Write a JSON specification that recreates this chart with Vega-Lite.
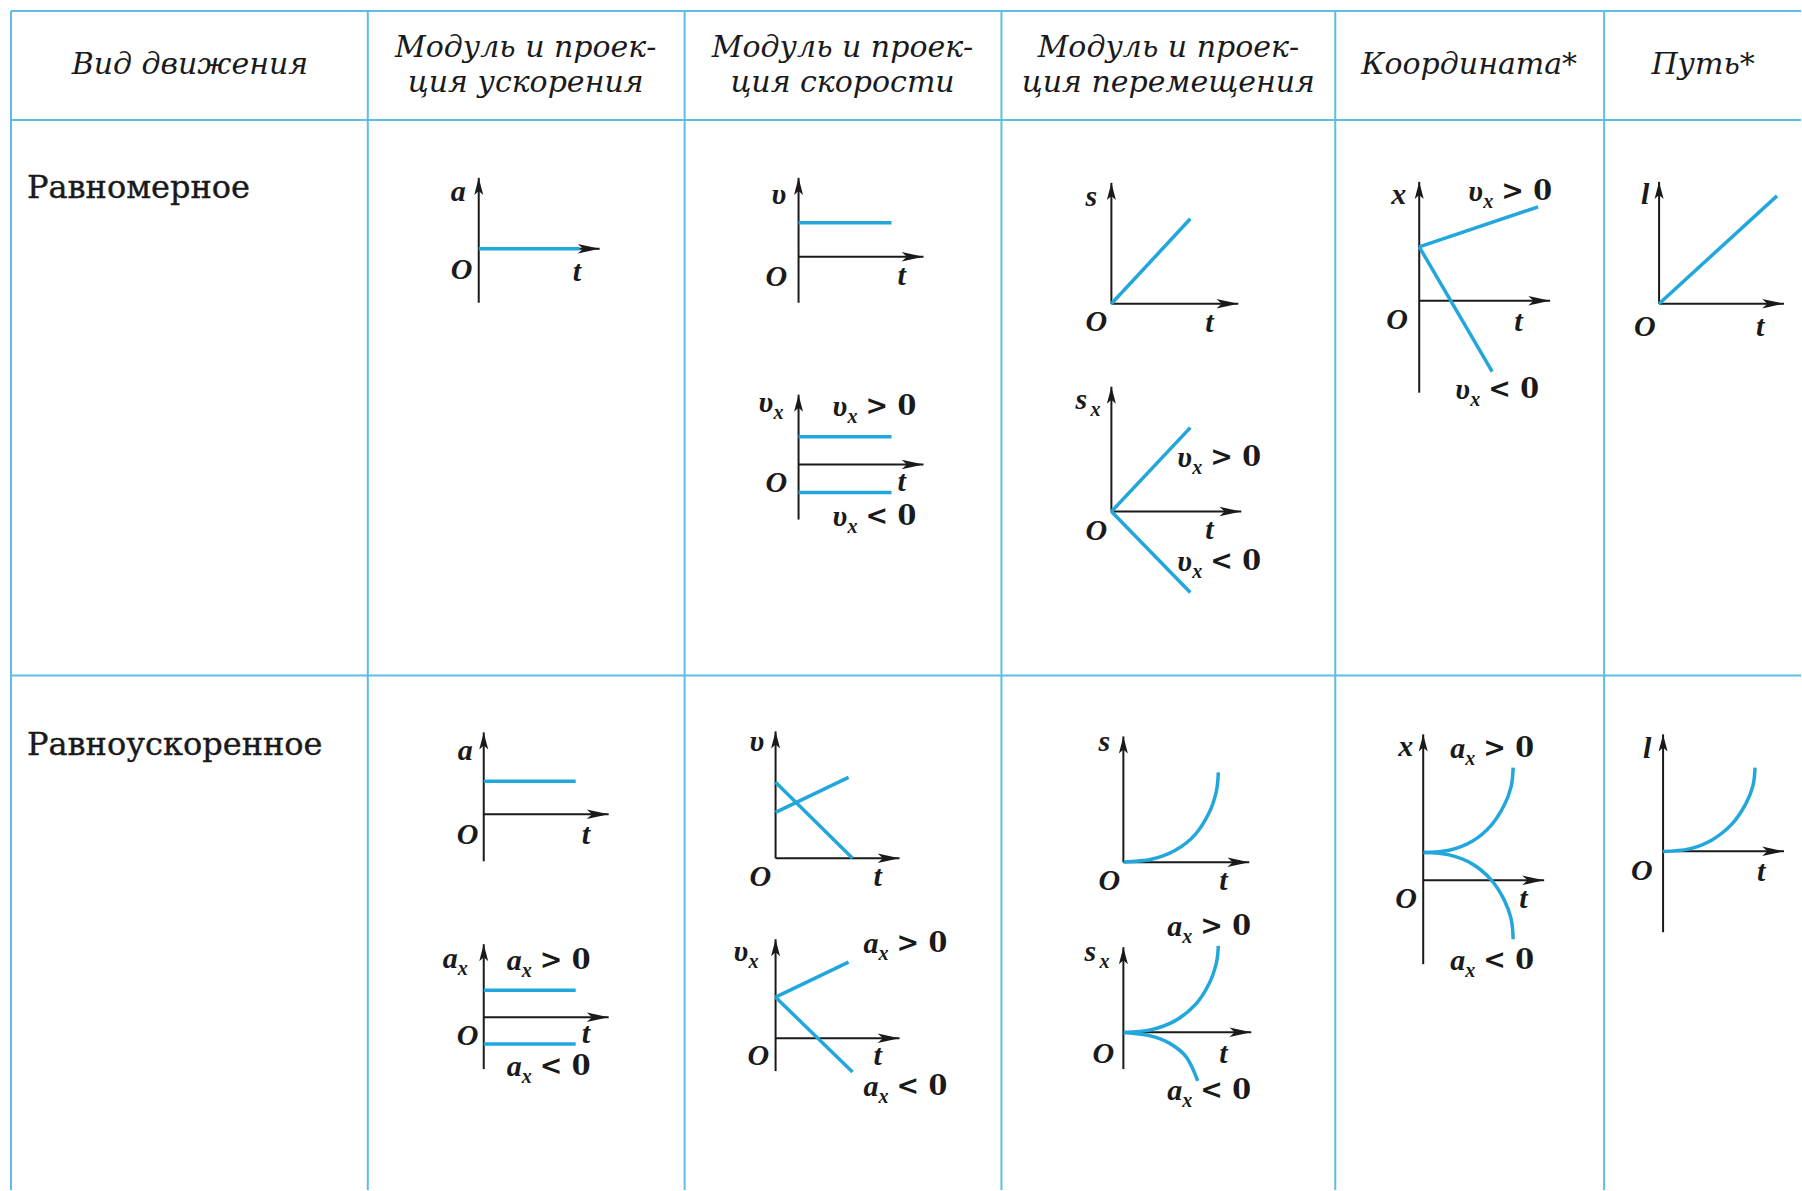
{
  "$schema": "https://vega.github.io/schema/vega-lite/v6.json",
  "width": 1802,
  "height": 1191,
  "autosize": {"type": "fit", "contains": "padding"},
  "padding": 0,
  "background": "white",
  "config": {"view": {"stroke": null}},
  "datasets": {
    "grid": [
      {"x": 11, "y": 11, "x2": 1802, "y2": 11},
      {"x": 11, "y": 120, "x2": 1802, "y2": 120},
      {"x": 11, "y": 676, "x2": 1802, "y2": 676},
      {"x": 11, "y": 11, "x2": 11, "y2": 1191},
      {"x": 368, "y": 11, "x2": 368, "y2": 1191},
      {"x": 685, "y": 11, "x2": 685, "y2": 1191},
      {"x": 1002, "y": 11, "x2": 1002, "y2": 1191},
      {"x": 1336, "y": 11, "x2": 1336, "y2": 1191},
      {"x": 1605, "y": 11, "x2": 1605, "y2": 1191}
    ],
    "vaxes": [
      {"x": 479, "y": 178, "y2": 303},
      {"x": 799, "y": 178, "y2": 303},
      {"x": 799, "y": 395, "y2": 520},
      {"x": 1112, "y": 183, "y2": 304},
      {"x": 1112, "y": 387, "y2": 512},
      {"x": 1420, "y": 182, "y2": 393},
      {"x": 1660, "y": 182, "y2": 304},
      {"x": 484, "y": 733, "y2": 862},
      {"x": 484, "y": 945, "y2": 1070},
      {"x": 776, "y": 732, "y2": 859},
      {"x": 776, "y": 940, "y2": 1072},
      {"x": 1124, "y": 737, "y2": 863},
      {"x": 1124, "y": 948, "y2": 1070},
      {"x": 1424, "y": 735, "y2": 965},
      {"x": 1664, "y": 735, "y2": 933}
    ],
    "haxes": [
      {"x": 479, "x2": 600, "y": 249},
      {"x": 799, "x2": 924, "y": 257},
      {"x": 799, "x2": 924, "y": 465},
      {"x": 1112, "x2": 1239, "y": 304},
      {"x": 1112, "x2": 1242, "y": 512},
      {"x": 1420, "x2": 1551, "y": 301},
      {"x": 1660, "x2": 1785, "y": 304},
      {"x": 484, "x2": 609, "y": 815},
      {"x": 484, "x2": 609, "y": 1018},
      {"x": 776, "x2": 900, "y": 859},
      {"x": 776, "x2": 900, "y": 1039},
      {"x": 1124, "x2": 1250, "y": 863},
      {"x": 1124, "x2": 1252, "y": 1033},
      {"x": 1424, "x2": 1545, "y": 881},
      {"x": 1664, "x2": 1785, "y": 852}
    ],
    "segs": [
      {"x": 479, "y": 249, "x2": 580, "y2": 249},
      {"x": 799, "y": 223, "x2": 892, "y2": 223},
      {"x": 799, "y": 437, "x2": 892, "y2": 437},
      {"x": 799, "y": 493, "x2": 892, "y2": 493},
      {"x": 1112, "y": 304, "x2": 1191, "y2": 219},
      {"x": 1112, "y": 512, "x2": 1191, "y2": 428},
      {"x": 1112, "y": 512, "x2": 1191, "y2": 593},
      {"x": 1420, "y": 247, "x2": 1539, "y2": 207},
      {"x": 1420, "y": 247, "x2": 1493, "y2": 372},
      {"x": 1660, "y": 304, "x2": 1778, "y2": 196},
      {"x": 484, "y": 782, "x2": 576, "y2": 782},
      {"x": 484, "y": 991, "x2": 576, "y2": 991},
      {"x": 484, "y": 1045, "x2": 576, "y2": 1045},
      {"x": 776, "y": 783, "x2": 853, "y2": 859},
      {"x": 776, "y": 813, "x2": 849, "y2": 778},
      {"x": 776, "y": 998, "x2": 849, "y2": 963},
      {"x": 776, "y": 998, "x2": 853, "y2": 1073}
    ],
    "curves": [
      {"id": "c1", "p": 0, "x": 1124.4, "y": 862.7},
      {"id": "c1", "p": 1, "x": 1152, "y": 860},
      {"id": "c1", "p": 2, "x": 1176, "y": 851},
      {"id": "c1", "p": 3, "x": 1196, "y": 835},
      {"id": "c1", "p": 4, "x": 1210, "y": 813},
      {"id": "c1", "p": 5, "x": 1217, "y": 792},
      {"id": "c1", "p": 6, "x": 1219, "y": 773},
      {"id": "c2", "p": 0, "x": 1124.4, "y": 1033.3},
      {"id": "c2", "p": 1, "x": 1152, "y": 1030.5},
      {"id": "c2", "p": 2, "x": 1176, "y": 1021.5},
      {"id": "c2", "p": 3, "x": 1196, "y": 1005.5},
      {"id": "c2", "p": 4, "x": 1210, "y": 984},
      {"id": "c2", "p": 5, "x": 1217, "y": 964},
      {"id": "c2", "p": 6, "x": 1219, "y": 946.7},
      {"id": "c3", "p": 0, "x": 1124.4, "y": 1033.3},
      {"id": "c3", "p": 1, "x": 1150, "y": 1036.5},
      {"id": "c3", "p": 2, "x": 1170, "y": 1044},
      {"id": "c3", "p": 3, "x": 1187, "y": 1058},
      {"id": "c3", "p": 4, "x": 1198.4, "y": 1081.7},
      {"id": "c4", "p": 0, "x": 1424.4, "y": 853.3},
      {"id": "c4", "p": 1, "x": 1450, "y": 851},
      {"id": "c4", "p": 2, "x": 1473, "y": 842},
      {"id": "c4", "p": 3, "x": 1492, "y": 826},
      {"id": "c4", "p": 4, "x": 1505, "y": 806},
      {"id": "c4", "p": 5, "x": 1512, "y": 787},
      {"id": "c4", "p": 6, "x": 1514, "y": 768.3},
      {"id": "c5", "p": 0, "x": 1424.4, "y": 853.3},
      {"id": "c5", "p": 1, "x": 1450, "y": 855.6},
      {"id": "c5", "p": 2, "x": 1473, "y": 864.6},
      {"id": "c5", "p": 3, "x": 1492, "y": 880.6},
      {"id": "c5", "p": 4, "x": 1505, "y": 900.6},
      {"id": "c5", "p": 5, "x": 1512, "y": 920},
      {"id": "c5", "p": 6, "x": 1514, "y": 940},
      {"id": "c6", "p": 0, "x": 1663.7, "y": 852.3},
      {"id": "c6", "p": 1, "x": 1690, "y": 849.6},
      {"id": "c6", "p": 2, "x": 1713, "y": 840.6},
      {"id": "c6", "p": 3, "x": 1733, "y": 824.6},
      {"id": "c6", "p": 4, "x": 1747, "y": 804},
      {"id": "c6", "p": 5, "x": 1754, "y": 786},
      {"id": "c6", "p": 6, "x": 1756, "y": 768.3}
    ],
    "headers": [
      {"t": "Вид движения", "x": 190, "y": 65},
      {"t": "Модуль и проек-", "x": 526, "y": 48},
      {"t": "ция ускорения", "x": 526, "y": 83},
      {"t": "Модуль и проек-", "x": 843, "y": 48},
      {"t": "ция скорости", "x": 843, "y": 83},
      {"t": "Модуль и проек-", "x": 1169, "y": 48},
      {"t": "ция перемещения", "x": 1169, "y": 83},
      {"t": "Координата*", "x": 1470, "y": 65},
      {"t": "Путь*", "x": 1704, "y": 65}
    ],
    "rows": [
      {"t": "Равномерное", "x": 27, "y": 188},
      {"t": "Равноускоренное", "x": 27, "y": 746}
    ],
    "labels": [
      {"x": 451, "y": 192, "m": "a", "s": "", "r": ""},
      {"x": 451, "y": 270, "m": "O", "s": "", "r": ""},
      {"x": 573, "y": 272, "m": "t", "s": "", "r": ""},
      {"x": 772, "y": 195, "m": "υ", "s": "", "r": ""},
      {"x": 766, "y": 277, "m": "O", "s": "", "r": ""},
      {"x": 898, "y": 276, "m": "t", "s": "", "r": ""},
      {"x": 759, "y": 403, "m": "υ", "s": "x", "r": ""},
      {"x": 766, "y": 483, "m": "O", "s": "", "r": ""},
      {"x": 898, "y": 482, "m": "t", "s": "", "r": ""},
      {"x": 833, "y": 407, "m": "υ", "s": "x", "r": "> 0"},
      {"x": 833, "y": 517, "m": "υ", "s": "x", "r": "< 0"},
      {"x": 1086, "y": 197, "m": "s", "s": "", "r": ""},
      {"x": 1086, "y": 322, "m": "O", "s": "", "r": ""},
      {"x": 1206, "y": 323, "m": "t", "s": "", "r": ""},
      {"x": 1076, "y": 400, "m": "s", "s": "x", "r": ""},
      {"x": 1086, "y": 531, "m": "O", "s": "", "r": ""},
      {"x": 1206, "y": 530, "m": "t", "s": "", "r": ""},
      {"x": 1178, "y": 458, "m": "υ", "s": "x", "r": "> 0"},
      {"x": 1178, "y": 562, "m": "υ", "s": "x", "r": "< 0"},
      {"x": 1392, "y": 195, "m": "x", "s": "", "r": ""},
      {"x": 1387, "y": 320, "m": "O", "s": "", "r": ""},
      {"x": 1515, "y": 322, "m": "t", "s": "", "r": ""},
      {"x": 1469, "y": 192, "m": "υ", "s": "x", "r": "> 0"},
      {"x": 1456, "y": 390, "m": "υ", "s": "x", "r": "< 0"},
      {"x": 1642, "y": 195, "m": "l", "s": "", "r": ""},
      {"x": 1635, "y": 327, "m": "O", "s": "", "r": ""},
      {"x": 1757, "y": 327, "m": "t", "s": "", "r": ""},
      {"x": 458, "y": 752, "m": "a", "s": "", "r": ""},
      {"x": 457, "y": 836, "m": "O", "s": "", "r": ""},
      {"x": 582, "y": 836, "m": "t", "s": "", "r": ""},
      {"x": 443, "y": 960, "m": "a", "s": "x", "r": ""},
      {"x": 457, "y": 1037, "m": "O", "s": "", "r": ""},
      {"x": 582, "y": 1035, "m": "t", "s": "", "r": ""},
      {"x": 507, "y": 962, "m": "a", "s": "x", "r": "> 0"},
      {"x": 507, "y": 1068, "m": "a", "s": "x", "r": "< 0"},
      {"x": 750, "y": 743, "m": "υ", "s": "", "r": ""},
      {"x": 750, "y": 878, "m": "O", "s": "", "r": ""},
      {"x": 874, "y": 878, "m": "t", "s": "", "r": ""},
      {"x": 734, "y": 953, "m": "υ", "s": "x", "r": ""},
      {"x": 748, "y": 1057, "m": "O", "s": "", "r": ""},
      {"x": 874, "y": 1057, "m": "t", "s": "", "r": ""},
      {"x": 864, "y": 945, "m": "a", "s": "x", "r": "> 0"},
      {"x": 864, "y": 1088, "m": "a", "s": "x", "r": "< 0"},
      {"x": 1099, "y": 743, "m": "s", "s": "", "r": ""},
      {"x": 1099, "y": 882, "m": "O", "s": "", "r": ""},
      {"x": 1220, "y": 882, "m": "t", "s": "", "r": ""},
      {"x": 1085, "y": 953, "m": "s", "s": "x", "r": ""},
      {"x": 1093, "y": 1055, "m": "O", "s": "", "r": ""},
      {"x": 1220, "y": 1055, "m": "t", "s": "", "r": ""},
      {"x": 1168, "y": 928, "m": "a", "s": "x", "r": "> 0"},
      {"x": 1168, "y": 1092, "m": "a", "s": "x", "r": "< 0"},
      {"x": 1399, "y": 748, "m": "x", "s": "", "r": ""},
      {"x": 1396, "y": 900, "m": "O", "s": "", "r": ""},
      {"x": 1520, "y": 900, "m": "t", "s": "", "r": ""},
      {"x": 1451, "y": 750, "m": "a", "s": "x", "r": "> 0"},
      {"x": 1451, "y": 962, "m": "a", "s": "x", "r": "< 0"},
      {"x": 1644, "y": 750, "m": "l", "s": "", "r": ""},
      {"x": 1632, "y": 872, "m": "O", "s": "", "r": ""},
      {"x": 1758, "y": 873, "m": "t", "s": "", "r": ""}
    ]
  },
  "layer": [
    {
      "data": {"name": "grid"},
      "mark": {"type": "rule", "stroke": "#5DBDE6", "strokeWidth": 2},
      "encoding": {
        "x": {"field": "x", "type": "quantitative", "scale": {"domain": [0, 1802], "nice": false, "zero": false}, "axis": null},
        "y": {"field": "y", "type": "quantitative", "scale": {"domain": [0, 1191], "nice": false, "zero": false, "reverse": true}, "axis": null},
        "x2": {"field": "x2"},
        "y2": {"field": "y2"}
      }
    },
    {
      "data": {"name": "vaxes"},
      "mark": {"type": "rule", "stroke": "#1a1a1a", "strokeWidth": 2},
      "encoding": {
        "x": {"field": "x", "type": "quantitative", "scale": {"domain": [0, 1802], "nice": false, "zero": false}, "axis": null},
        "y": {"field": "y", "type": "quantitative", "scale": {"domain": [0, 1191], "nice": false, "zero": false, "reverse": true}, "axis": null},
        "y2": {"field": "y2"}
      }
    },
    {
      "data": {"name": "haxes"},
      "mark": {"type": "rule", "stroke": "#1a1a1a", "strokeWidth": 2},
      "encoding": {
        "x": {"field": "x", "type": "quantitative", "scale": {"domain": [0, 1802], "nice": false, "zero": false}, "axis": null},
        "y": {"field": "y", "type": "quantitative", "scale": {"domain": [0, 1191], "nice": false, "zero": false, "reverse": true}, "axis": null},
        "x2": {"field": "x2"}
      }
    },
    {
      "data": {"name": "segs"},
      "mark": {"type": "rule", "stroke": "#22A7DD", "strokeWidth": 3.5},
      "encoding": {
        "x": {"field": "x", "type": "quantitative", "scale": {"domain": [0, 1802], "nice": false, "zero": false}, "axis": null},
        "y": {"field": "y", "type": "quantitative", "scale": {"domain": [0, 1191], "nice": false, "zero": false, "reverse": true}, "axis": null},
        "x2": {"field": "x2"},
        "y2": {"field": "y2"}
      }
    },
    {
      "data": {"name": "curves"},
      "mark": {"type": "line", "stroke": "#22A7DD", "strokeWidth": 3.5, "interpolate": "cardinal"},
      "encoding": {
        "x": {"field": "x", "type": "quantitative", "scale": {"domain": [0, 1802], "nice": false, "zero": false}, "axis": null},
        "y": {"field": "y", "type": "quantitative", "scale": {"domain": [0, 1191], "nice": false, "zero": false, "reverse": true}, "axis": null},
        "detail": {"field": "id"},
        "order": {"field": "p"}
      }
    },
    {
      "data": {"name": "vaxes"},
      "mark": {"type": "point", "shape": "M0,0L0.5,1.9L0,1.45L-0.5,1.9Z", "size": 324, "filled": true, "fill": "#1a1a1a", "opacity": 1, "strokeWidth": 0},
      "encoding": {
        "x": {"field": "x", "type": "quantitative", "scale": {"domain": [0, 1802], "nice": false, "zero": false}, "axis": null},
        "y": {"field": "y", "type": "quantitative", "scale": {"domain": [0, 1191], "nice": false, "zero": false, "reverse": true}, "axis": null}
      }
    },
    {
      "data": {"name": "haxes"},
      "mark": {"type": "point", "shape": "M0,0L-2.3,0.5L-1.75,0L-2.3,-0.5Z", "size": 361, "filled": true, "fill": "#1a1a1a", "opacity": 1, "strokeWidth": 0},
      "encoding": {
        "x": {"field": "x2", "type": "quantitative", "scale": {"domain": [0, 1802], "nice": false, "zero": false}, "axis": null},
        "y": {"field": "y", "type": "quantitative", "scale": {"domain": [0, 1191], "nice": false, "zero": false, "reverse": true}, "axis": null}
      }
    },
    {
      "data": {"name": "headers"},
      "mark": {"type": "text", "font": "DejaVu Serif", "fontStyle": "italic", "fontSize": 30, "align": "center", "baseline": "middle", "fill": "#1a1a1a"},
      "encoding": {
        "x": {"field": "x", "type": "quantitative", "scale": {"domain": [0, 1802], "nice": false, "zero": false}, "axis": null},
        "y": {"field": "y", "type": "quantitative", "scale": {"domain": [0, 1191], "nice": false, "zero": false, "reverse": true}, "axis": null},
        "text": {"field": "t"}
      }
    },
    {
      "data": {"name": "rows"},
      "mark": {"type": "text", "font": "DejaVu Serif", "fontSize": 32, "align": "left", "baseline": "middle", "fill": "#1a1a1a", "stroke": "#1a1a1a", "strokeWidth": 0.4},
      "encoding": {
        "x": {"field": "x", "type": "quantitative", "scale": {"domain": [0, 1802], "nice": false, "zero": false}, "axis": null},
        "y": {"field": "y", "type": "quantitative", "scale": {"domain": [0, 1191], "nice": false, "zero": false, "reverse": true}, "axis": null},
        "text": {"field": "t"}
      }
    },
    {
      "data": {"name": "labels"},
      "mark": {"type": "text", "font": "Liberation Serif", "fontStyle": "italic", "fontWeight": "bold", "fontSize": 30, "align": "left", "baseline": "middle", "fill": "#1a1a1a"},
      "encoding": {
        "x": {"field": "x", "type": "quantitative", "scale": {"domain": [0, 1802], "nice": false, "zero": false}, "axis": null},
        "y": {"field": "y", "type": "quantitative", "scale": {"domain": [0, 1191], "nice": false, "zero": false, "reverse": true}, "axis": null},
        "text": {"field": "m"}
      }
    },
    {
      "data": {"name": "labels"},
      "mark": {"type": "text", "font": "Liberation Serif", "fontStyle": "italic", "fontWeight": "bold", "fontSize": 20, "align": "left", "baseline": "middle", "fill": "#1a1a1a", "dx": 15, "dy": 10},
      "encoding": {
        "x": {"field": "x", "type": "quantitative", "scale": {"domain": [0, 1802], "nice": false, "zero": false}, "axis": null},
        "y": {"field": "y", "type": "quantitative", "scale": {"domain": [0, 1191], "nice": false, "zero": false, "reverse": true}, "axis": null},
        "text": {"field": "s"}
      }
    },
    {
      "data": {"name": "labels"},
      "mark": {"type": "text", "font": "DejaVu Serif", "fontWeight": "bold", "fontSize": 27, "align": "left", "baseline": "middle", "fill": "#1a1a1a", "dx": 33},
      "encoding": {
        "x": {"field": "x", "type": "quantitative", "scale": {"domain": [0, 1802], "nice": false, "zero": false}, "axis": null},
        "y": {"field": "y", "type": "quantitative", "scale": {"domain": [0, 1191], "nice": false, "zero": false, "reverse": true}, "axis": null},
        "text": {"field": "r"}
      }
    }
  ]
}
